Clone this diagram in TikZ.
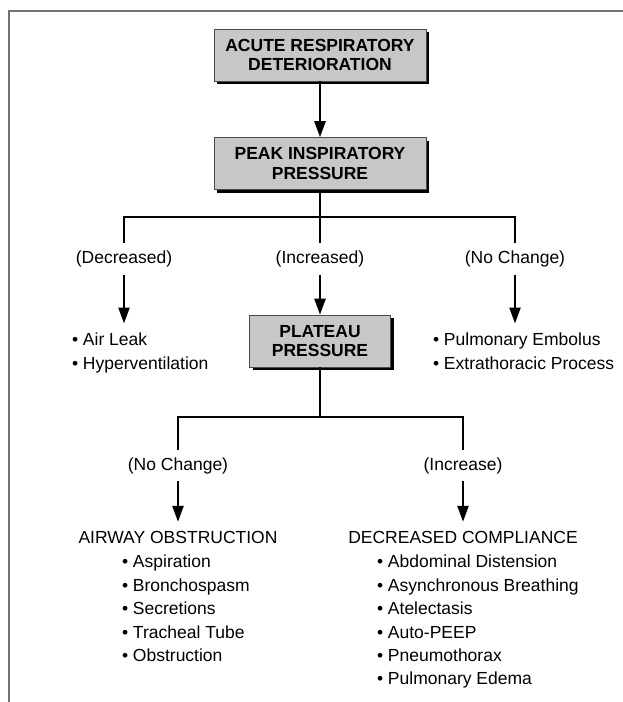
\documentclass[tikz,border=0pt]{standalone}
\usepackage{fontspec}
\setmainfont{Liberation Sans}
\usetikzlibrary{positioning}
\usetikzlibrary{arrows.meta}
\usetikzlibrary{shadows}

\begin{document}
\begin{tikzpicture}[x=1pt,y=1pt,line width=2.4pt,>={Triangle[length=16pt,width=11pt]},
  stage/.style={draw=black!70,line width=0.6pt,fill=black!22,align=center,inner sep=0pt,
    font=\bfseries\fontsize{17.5}{19.5}\selectfont,minimum height=52pt,
    drop shadow={shadow xshift=3pt,shadow yshift=-3pt,fill=black,opacity=1}},
  outcome/.style={font=\fontsize{17.5}{21}\selectfont,minimum height=29pt,inner sep=0pt},
  finding/.style={font=\fontsize{17.5}{21}\selectfont,inner sep=0pt,outer ysep=9pt},
  causes/.style={font=\fontsize{17.5}{23.4}\selectfont,align=left,anchor=north west,
    inner sep=0pt,outer xsep=0pt,outer ysep=9.5pt}]
  \useasboundingbox (0,0) rectangle (623,-702);
  \draw[black!55,line width=2pt] (8.5,-702) |- (623,-10.5);

  % boxes
  \node (acute)   [stage,minimum width=212pt] at (320,-55)    {ACUTE RESPIRATORY\\DETERIORATION};
  \node (peak)    [stage,minimum width=212pt] at (320,-163.5) {PEAK INSPIRATORY\\PRESSURE};
  \node (plateau) [stage,minimum width=141pt] at (320,-341)   {PLATEAU\\PRESSURE};

  % first split
  \node (decr)  [outcome] at (124,-259) {(Decreased)};
  \node (incr)  [outcome] at (320,-259) {(Increased)};
  \node (nochg) [outcome] at (515,-259) {(No Change)};
  \node (leak)  [causes] at (72,-323.5)  {• Air Leak\\• Hyperventilation};
  \node (embol) [causes] at (433,-323.5) {• Pulmonary Embolus\\• Extrathoracic Process};

  % second split
  \node (same) [outcome] at (178,-465.5) {(No Change)};
  \node (rise) [outcome] at (463,-465.5) {(Increase)};
  \node (airway)     [finding] at (178,-537) {AIRWAY OBSTRUCTION};
  \node (compliance) [finding] at (463,-537) {DECREASED COMPLIANCE};
  \node (obstr) [causes] at (122,-545.8) {• Aspiration\\• Bronchospasm\\• Secretions\\• Tracheal Tube\\• Obstruction};
  \node (compl) [causes] at (377,-545.8) {• Abdominal Distension\\• Asynchronous Breathing\\• Atelectasis\\• Auto-PEEP\\• Pneumothorax\\• Pulmonary Edema};

  \coordinate (fork1) at (320,-217);
  \coordinate (fork2) at (320,-417);

  \draw[->] (acute) -- (peak);
  \draw (peak) -- (fork1);
  \draw (decr) |- (fork1) -| (nochg);
  \draw (fork1) -- (incr);
  \draw[->] (decr) -- (decr |- leak.north);
  \draw[->] (incr) -- (plateau);
  \draw[->] (nochg) -- (nochg |- embol.north);

  \draw (plateau) -- (fork2);
  \draw (same) |- (fork2) -| (rise);
  \draw[->] (same) -- (airway);
  \draw[->] (rise) -- (compliance);
\end{tikzpicture}
\end{document}
